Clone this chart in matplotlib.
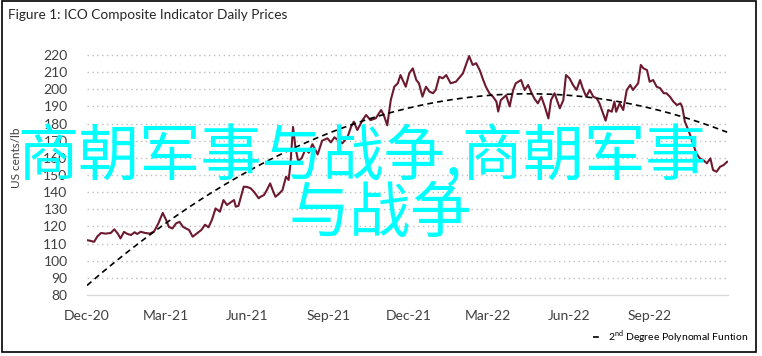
import numpy as np
import matplotlib
matplotlib.use("Agg")
import matplotlib.pyplot as plt
import matplotlib.dates as mdates
from matplotlib.patches import Rectangle

plt.rcParams['font.family'] = ['Lato', 'DejaVu Sans']

# data: days since 1 Dec 2020, price in US cents/lb
start = np.datetime64('2020-12-01')
days = [0, 4, 8, 12, 16, 21, 27, 31, 35, 38, 42, 46, 50, 54, 57, 61, 65, 71, 76, 81,
        86, 90, 93, 97, 101, 105, 109, 112, 116, 120, 125, 130, 134, 138, 142, 146, 151, 155, 159, 163,
        167, 169, 172, 178, 182, 186, 190, 195, 197, 201, 204, 208, 211, 214, 218, 222, 226, 229, 231, 234,
        237, 240, 244, 248, 252, 256, 262, 267, 273, 277, 281, 286, 290, 296, 300, 303, 307, 313, 317, 322,
        328, 334, 337, 341, 345, 349, 353, 356, 362, 366, 370, 374, 377, 381, 385, 389, 393, 396, 400, 404,
        408, 413, 419, 427, 431, 434, 438, 442, 446, 450, 453, 457, 461, 465, 467, 470, 476, 480, 484, 487,
        493, 497, 501, 505, 508, 512, 516, 520, 524, 527, 531, 537, 541, 544, 548, 552, 556, 560, 563, 567,
        571, 575, 579, 582, 586, 589, 592, 596, 599, 601, 605, 609, 613, 617, 620, 626, 629, 632, 636, 639,
        643, 647, 651, 655, 658, 662, 666, 670, 674, 676, 679, 683, 687, 692, 696, 700, 704, 708, 711, 715,
        719, 723, 727]
prices = [112.0, 111.6, 111.0, 114.3, 116.2, 115.8, 116.2, 118.3, 115.8, 113.0, 116.8, 115.6, 115.0, 116.6, 115.6, 116.9, 116.3, 115.8, 116.9, 121.7,
          127.9, 123.6, 119.7, 118.8, 121.7, 122.7, 119.8, 118.9, 117.9, 114.0, 116.0, 118.0, 121.0, 119.5, 124.0, 130.5, 128.6, 135.4, 132.5, 134.0,
          135.4, 131.5, 132.0, 143.2, 143.0, 142.2, 140.0, 136.4, 137.3, 138.3, 141.0, 145.1, 141.0, 137.3, 139.0, 141.2, 149.0, 147.1, 156.0, 178.0,
          165.0, 158.0, 160.0, 165.0, 163.0, 168.0, 162.0, 170.0, 171.4, 169.0, 172.0, 170.0, 168.5, 172.3, 178.2, 181.1, 176.2, 182.1, 185.0, 182.0,
          183.1, 187.9, 185.0, 179.0, 193.7, 201.5, 203.5, 208.3, 201.5, 209.3, 212.2, 205.4, 203.5, 195.7, 201.5, 198.6, 197.7, 199.6, 207.3, 206.4,
          208.3, 203.5, 204.4, 209.3, 215.2, 219.4, 214.2, 215.2, 211.2, 205.4, 201.5, 197.7, 195.7, 192.8, 187.0, 193.7, 196.5, 190.0, 199.6, 203.5,
          205.4, 199.6, 202.5, 197.7, 194.7, 191.8, 195.7, 189.8, 183.0, 193.7, 197.7, 188.9, 193.7, 208.3, 206.4, 202.5, 199.6, 205.4, 200.6, 195.7,
          199.6, 195.7, 194.7, 191.8, 186.0, 181.7, 187.9, 186.9, 192.8, 186.9, 191.8, 187.9, 199.6, 202.5, 199.6, 203.5, 214.2, 212.2, 211.2, 204.4,
          205.4, 201.5, 200.6, 197.7, 197.7, 195.7, 192.8, 190.8, 191.8, 189.8, 181.1, 176.2, 170.4, 162.6, 159.7, 158.7, 156.8, 159.7, 152.9, 151.9,
          154.8, 155.8, 157.7]
yticks = list(range(80, 230, 10))

title = "Figure 1: ICO Composite Indicator Daily Prices"
ylabel = "US cents/lb"
trend_label = "2$^{\\mathregular{nd}}$ Degree Polynomal Funtion"
watermark = ["商朝军事与战争,商朝军事", "与战争"]

dates = start + np.array(days).astype('timedelta64[D]')
# 2nd degree polynomial fitted to the price series
coef = np.polyfit(days, prices, 2)
trend = np.polyval(coef, days)

W, H = 762, 356
fig = plt.figure(figsize=(W / 100, H / 100), dpi=100)
ax = fig.add_axes([87 / W, 61 / H, 641 / W, 240 / H])

ax.plot(dates, prices, color='#6d1a30', lw=1.5, zorder=3)
ax.plot(dates, trend, color='black', lw=1.2, dashes=(3.5, 2.5), zorder=4, label=trend_label)

ax.set_xlim(start, start + np.timedelta64(728, 'D'))
ax.set_ylim(80, 220)
ax.set_yticks(yticks)
for v in yticks[1:]:
    ax.axhline(v, color='#bdbdbd', lw=1.0, linestyle=(0, (1, 2.5)), zorder=1, clip_on=False)

ax.xaxis.set_major_locator(mdates.MonthLocator(bymonth=[3, 6, 9, 12]))
ax.xaxis.set_major_formatter(mdates.DateFormatter('%b-%y'))
ax.tick_params(length=0, labelsize=10, labelcolor='#404040')
ax.tick_params(axis='y', pad=14)
ax.tick_params(axis='x', pad=11)

for s in ['top', 'right', 'left']:
    ax.spines[s].set_visible(False)
ax.spines['bottom'].set_color('#d9d9d9')
ax.spines['bottom'].set_linewidth(1.0)

fig.text(8 / W, 1 - 15 / H, title, ha='left', va='center', fontsize=9.8, color='#262626')
fig.text(16 / W, 1 - 158 / H, ylabel, rotation=90, ha='center', va='center',
         fontsize=8.5, color='#404040')

fig.legend(loc='center right', bbox_to_anchor=(748 / W, 1 - 337 / H), frameon=False,
           fontsize=7.5, handlelength=1.0, handletextpad=0.4, borderpad=0, borderaxespad=0)

fig.add_artist(Rectangle((2 / W, 4 / H), 754 / W, 351 / H, transform=fig.transFigure,
                         fill=False, edgecolor='black', lw=1.2))

fig.text(17 / W, 1 - 158 / H, watermark[0], ha='left', va='center', fontsize=44,
         color='#00ffff', family=['Noto Sans CJK SC', 'DejaVu Sans'])
fig.text(289 / W, 1 - 215 / H, watermark[1], ha='left', va='center', fontsize=44,
         color='#00ffff', family=['Noto Sans CJK SC', 'DejaVu Sans'])

fig.savefig('out.png', dpi=100)
